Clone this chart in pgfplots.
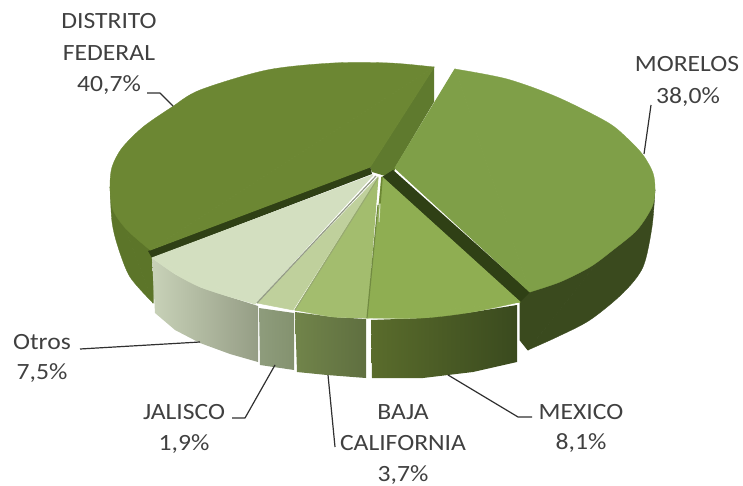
\documentclass[border=0pt]{standalone}
\usepackage{pgfplots}
\pgfplotsset{compat=1.18}
\usepackage{fontspec}
\setmainfont[FakeStretch=1.1]{Carlito}

\definecolor{dfTop}{HTML}{6C8733}
\definecolor{dfSide}{HTML}{5C7529}
\definecolor{dfCut}{HTML}{5F7A2E}
\definecolor{moTop}{HTML}{7F9F48}
\definecolor{moSide}{HTML}{3A4A1E}
\definecolor{strip}{HTML}{2F4015}
\definecolor{meTop}{HTML}{8FAE52}
\definecolor{meL}{HTML}{5A6C2C}
\definecolor{baTop}{HTML}{A3BD6E}
\definecolor{baL}{HTML}{71844A}
\definecolor{baR}{HTML}{5F6F40}
\definecolor{jaTop}{HTML}{BFD09C}
\definecolor{jaL}{HTML}{8E9C7C}
\definecolor{jaR}{HTML}{84926F}
\definecolor{otTop}{HTML}{D3DFC0}
\definecolor{otL}{HTML}{C8D2B8}
\definecolor{otR}{HTML}{959D85}
\definecolor{lead}{HTML}{303030}
\definecolor{txt}{HTML}{404040}

\newcommand{\lab}[3]{\node[anchor=center,text=txt,font=\fontsize{23.3}{28}\selectfont,inner sep=0pt] at (axis cs:#1,#2) {#3};}

\begin{document}
\begin{tikzpicture}
\path[use as bounding box] (0,0) rectangle (743pt,486pt);
\begin{axis}[
  anchor=south west, at={(0,0)},
  scale only axis, width=743pt, height=486pt,
  xmin=0, xmax=743, ymin=0, ymax=486, y dir=reverse,
  hide axis, clip=false,
  every axis plot/.append style={line join=round},
]
% distrito federal, side and cut face
\addplot[fill=dfSide,draw=dfSide,line width=.3pt,smooth] coordinates {(110,187) (112,222) (118,247) (130,277) (153,303)};
\addplot[fill=dfSide,draw=dfSide,line width=1pt] coordinates {(110,187) (153,303) (153,250)} --cycle;
\addplot[fill=dfCut,draw=none] coordinates {(434,67) (434,102) (396,166) (392,178) (372,172) (370,167)} --cycle;
% morelos, side
\addplot[fill=moSide,draw=moSide,line width=.3pt,smooth] coordinates {(655,190) (652,227) (643,267) (623,293) (590,320) (557,337) (528,350)};
\addplot[fill=moSide,draw=moSide,line width=1pt] coordinates {(655,190) (528,350) (520,340) (520,300) (530,292)} --cycle;
\addplot[fill=strip,draw=none] coordinates {(393,170) (530,292) (520,302) (382,177)} --cycle;
% distrito federal, top
\addplot[fill=strip,draw=none] coordinates {(370,166) (372,174) (152,258) (148,251)} --cycle;
\addplot[fill=dfTop,draw=dfTop,line width=.3pt,smooth] coordinates {(150,250) (127,230) (113,210) (110,187) (112,167) (122,148) (143,127) (172,107) (200,90) (267,70) (333,63) (390,63) (434,67)};
\addplot[fill=dfTop,draw=dfTop,line width=1pt] coordinates {(370,167) (150,250) (434,67)} --cycle;
% morelos, top
\addplot[fill=moTop,draw=moTop,line width=.3pt,smooth] coordinates {(455,69) (507,79) (557,97) (607,122) (627,138) (643,155) (653,173) (655,190) (652,207) (637,230) (613,250) (590,267) (560,282) (530,292)};
\addplot[fill=moTop,draw=moTop,line width=1pt] coordinates {(395,168) (455,69) (530,292)} --cycle;
% mexico
\addplot[left color=meL,right color=moSide,draw=none] coordinates {(371,320) (423,318) (473,312) (517,305) (517,362) (473,372) (423,378) (372,378)} --cycle;
\addplot[fill=meTop,draw=meTop,line width=.3pt,smooth] coordinates {(520,302) (473,312) (423,318) (367,318)};
\addplot[fill=meTop,draw=meTop,line width=1pt] coordinates {(382,177) (520,302) (367,318)} --cycle;
% baja california
\addplot[left color=baL,right color=baR,draw=none] coordinates {(295,312) (333,317) (366,319) (366,378) (327,375) (297,372)} --cycle;
\addplot[fill=baTop,draw=baTop,line width=.3pt,smooth] coordinates {(367,318) (333,317) (295,310)};
\addplot[fill=baTop,draw=baTop,line width=1pt] coordinates {(378,177) (367,318) (295,310)} --cycle;
% jalisco
\addplot[left color=jaL,right color=jaR,draw=none] coordinates {(259,308) (294,313) (294,370) (260,365)} --cycle;
\addplot[fill=jaTop,draw=jaTop,line width=.5pt] coordinates {(378,177) (293,310) (257,303)} --cycle;
% otros
\addplot[left color=otL,right color=otR,draw=none] coordinates {(152,258) (175,274) (200,287) (230,297) (258,306) (258,362) (230,354) (200,343) (175,330) (155,313)} --cycle;
\addplot[fill=otTop,draw=otTop,line width=.3pt,smooth] coordinates {(152,258) (175,274) (200,287) (230,297) (255,304)};
\addplot[fill=otTop,draw=otTop,line width=1pt] coordinates {(373,175) (152,258) (255,304)} --cycle;
% seams between the slices
\addplot[draw=otTop!70!black,line width=1.2pt] coordinates {(376,176) (257,303)};
\addplot[draw=baTop!70!otTop!85!black,line width=1pt] coordinates {(378,178) (295,310)};
\addplot[draw=meTop!80!black,line width=1.2pt] coordinates {(378,205) (367,318)};
\addplot[draw=dfTop,line width=1.6pt] coordinates {(382,177) (380,203)};
\addplot[draw=otTop,line width=1pt] coordinates {(380,204) (379,222)};
% leader lines
\addplot[draw=lead,line width=1.2pt] coordinates {(147,93) (160,93) (173,106)};
\addplot[draw=lead,line width=1.2pt] coordinates {(651,105) (644,154)};
\addplot[draw=lead,line width=1.2pt] coordinates {(80,349) (200,342)};
\addplot[draw=lead,line width=1.2pt] coordinates {(232,418) (245,418) (275,365)};
\addplot[draw=lead,line width=1.2pt] coordinates {(328,375) (335,447)};
\addplot[draw=lead,line width=1.2pt] coordinates {(448,375) (518,417) (532,417)};
% labels
\lab{109}{21}{DISTRITO}
\lab{109}{53}{FEDERAL}
\lab{109}{85}{40,7\%}
\lab{687}{64}{MORELOS}
\lab{688}{97}{38,0\%}
\lab{42}{342}{Otros}
\lab{42}{373}{7,5\%}
\lab{184}{412}{JALISCO}
\lab{184}{444}{1,9\%}
\lab{403}{412}{BAJA}
\lab{403}{443}{CALIFORNIA}
\lab{403}{475}{3,7\%}
\lab{581}{412}{MEXICO}
\lab{581}{443}{8,1\%}
\end{axis}
\end{tikzpicture}
\end{document}
